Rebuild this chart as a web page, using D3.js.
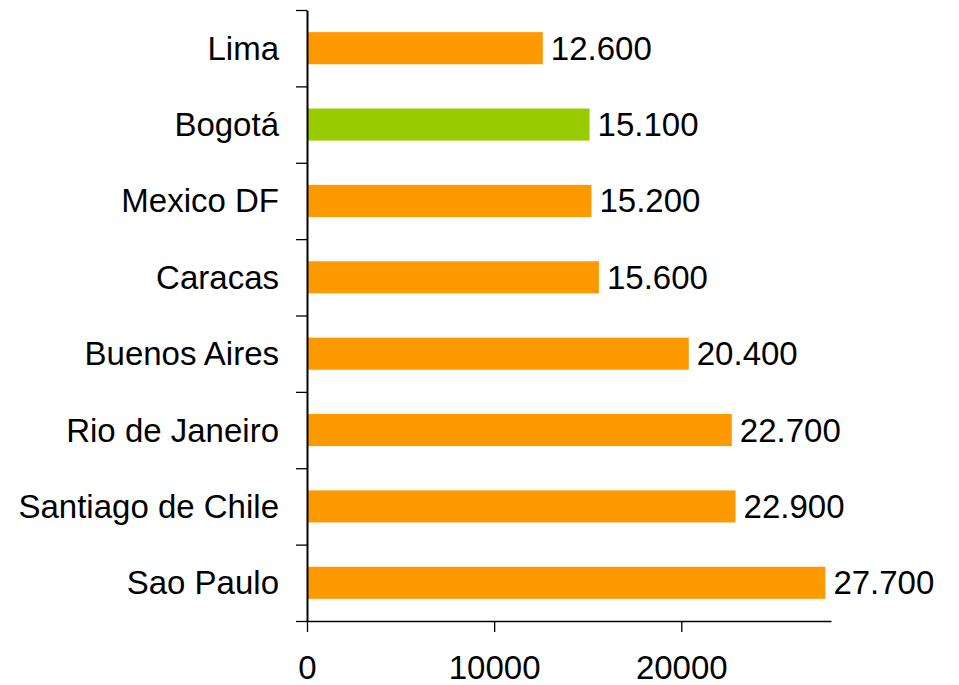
<!DOCTYPE html>
<html>
<head>
<meta charset="utf-8">
<script src="https://cdn.jsdelivr.net/npm/d3@7"></script>
<style>
  body { margin: 0; background: #fff; }
  text { font-family: "Liberation Sans", Arial, sans-serif; }
</style>
</head>
<body>
<div id="chart"></div>
<script>
var cities = ["Lima", "Bogotá", "Mexico DF", "Caracas", "Buenos Aires", "Rio de Janeiro", "Santiago de Chile", "Sao Paulo"];
var values = [12600, 15100, 15200, 15600, 20400, 22700, 22900, 27700];
var xTicks = [0, 10000, 20000];
var highlight = "Bogotá";

var svgWidth = 959;
var svgHeight = 685;
var margin = { top: 10, right: 128, bottom: 64, left: 307 };
var width = svgWidth - margin.left - margin.right;
var height = svgHeight - margin.top - margin.bottom;

var svg = d3.select("#chart")
  .append("svg")
  .attr("width", svgWidth)
  .attr("height", svgHeight);

var chartGroup = svg.append("g")
  .attr("transform", `translate(${margin.left}, ${margin.top})`);

var xScale = d3.scaleLinear()
  .domain([0, 28000])
  .range([0, width]);

var yScale = d3.scaleBand()
  .domain(cities)
  .range([0, height])
  .paddingInner(0.58)
  .paddingOuter(0.29);

// boundaries between categories, for the tick marks
var yEdge = d3.scaleLinear()
  .domain([0, cities.length])
  .range([0, height]);

var data = cities.map((c, i) => ({ city: c, value: values[i] }));

// bars
chartGroup.selectAll("rect")
  .data(data)
  .enter()
  .append("rect")
  .attr("x", 0)
  .attr("y", d => yScale(d.city))
  .attr("width", d => xScale(d.value))
  .attr("height", yScale.bandwidth())
  .attr("fill", d => d.city === highlight ? "#99CC00" : "#FF9900");

// value labels
chartGroup.selectAll(".val")
  .data(data)
  .enter()
  .append("text")
  .attr("class", "val")
  .attr("x", d => xScale(d.value) + 8)
  .attr("y", d => yScale(d.city) + yScale.bandwidth() / 2)
  .attr("dy", "0.35em")
  .attr("font-size", "33px")
  .attr("fill", "#000")
  .text(d => d3.format(",")(d.value).replace(/,/g, "."));

// x axis
var bottomAxis = d3.axisBottom(xScale)
  .tickValues(xTicks)
  .tickSize(11)
  .tickSizeOuter(0)
  .tickPadding(24)
  .tickFormat(d3.format("d"));

var xg = chartGroup.append("g")
  .attr("transform", `translate(0, ${height})`)
  .call(bottomAxis);
xg.select(".domain").attr("stroke", "#000").attr("stroke-width", 1.5);
xg.selectAll(".tick line").attr("stroke", "#000").attr("stroke-width", 1.3);
xg.selectAll(".tick text")
  .attr("font-size", "33px")
  .attr("font-family", "'Liberation Sans', Arial, sans-serif")
  .attr("fill", "#000");

// y axis with ticks between categories
var leftAxis = d3.axisLeft(yEdge)
  .tickValues(d3.range(cities.length + 1))
  .tickSize(11)
  .tickSizeOuter(0)
  .tickFormat("");

var yg = chartGroup.append("g").call(leftAxis);
yg.select(".domain").attr("stroke", "#000").attr("stroke-width", 2);
yg.selectAll(".tick line").attr("stroke", "#000").attr("stroke-width", 1.3);

// category labels
chartGroup.selectAll(".cat")
  .data(cities)
  .enter()
  .append("text")
  .attr("class", "cat")
  .attr("x", -28)
  .attr("y", d => yScale(d) + yScale.bandwidth() / 2)
  .attr("dy", "0.35em")
  .attr("text-anchor", "end")
  .attr("font-size", "33px")
  .attr("fill", "#000")
  .text(d => d);
</script>
</body>
</html>
